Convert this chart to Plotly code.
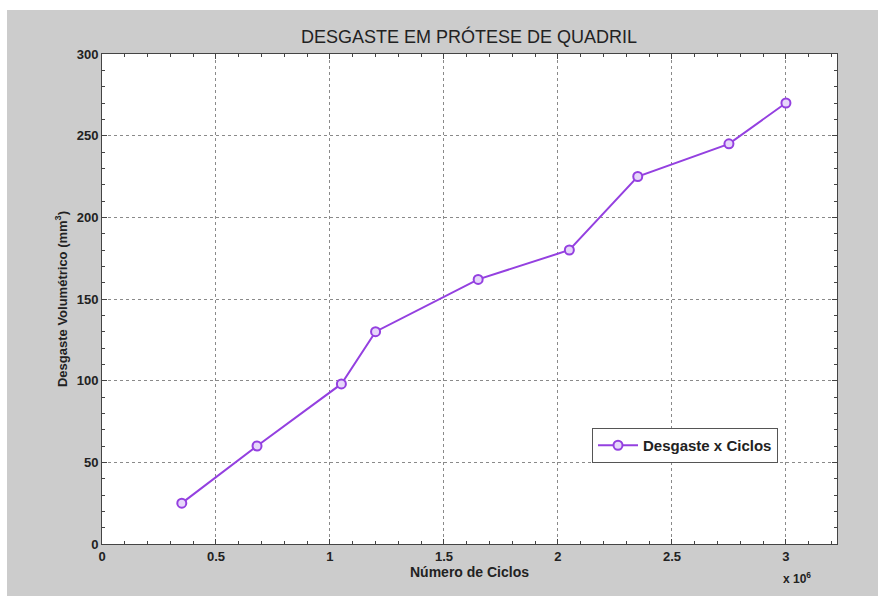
import plotly.graph_objects as go

ciclos = [0.35e6, 0.68e6, 1.05e6, 1.2e6, 1.65e6, 2.05e6, 2.35e6, 2.75e6, 3.0e6]
desgaste = [25, 60, 98, 130, 162, 180, 225, 245, 270]
x_ticks = [0, 0.5e6, 1e6, 1.5e6, 2e6, 2.5e6, 3e6]
x_labels = ["0", "0.5", "1", "1.5", "2", "2.5", "3"]
y_ticks = [0, 50, 100, 150, 200, 250, 300]

FONT = "Liberation Sans, Arial, sans-serif"
PURPLE = "#9440e0"

fig = go.Figure()
fig.add_trace(go.Scatter(
    x=ciclos, y=desgaste, mode="lines+markers", name="<b>Desgaste x Ciclos</b>",
    line=dict(color=PURPLE, width=2),
    marker=dict(symbol="circle", size=9, color="rgba(230,215,250,1)",
                line=dict(color=PURPLE, width=2)),
))

W, H = 878, 596
L, R, T, B = 102, 41, 54, 52
pw, ph = W - L - R, H - T - B

def px(xp):
    return (xp - L) / pw

def py(yp):
    return (H - B - yp) / ph

# white strips to the left and top of the grey figure area
fig.add_shape(type="rect", xref="paper", yref="paper",
              x0=px(-2), x1=px(7), y0=py(H + 2), y1=py(-2),
              fillcolor="white", line=dict(width=0), layer="above")
fig.add_shape(type="rect", xref="paper", yref="paper",
              x0=px(-2), x1=px(W + 2), y0=py(10), y1=py(-2),
              fillcolor="white", line=dict(width=0), layer="above")

axis_common = dict(
    showline=True, linecolor="#444", linewidth=1, mirror="ticks",
    ticks="inside", ticklen=5, tickcolor="#444", tickwidth=1,
    showgrid=True, gridcolor="#8a8a8a", griddash="dot", gridwidth=1,
    zeroline=False,
    tickfont=dict(family=FONT, size=13, color="#222", weight="bold"),
)

fig.update_xaxes(
    range=[0, 3.224e6], tickvals=x_ticks, ticktext=x_labels,
    minor=dict(dtick=1e5, ticks="inside", ticklen=3, tickcolor="#444", showgrid=False),
    title=dict(text="<b>Número de Ciclos</b>", font=dict(family=FONT, size=14, color="#222"), standoff=4),
    **axis_common,
)
fig.update_yaxes(
    range=[0, 300], tickvals=y_ticks,
    minor=dict(dtick=10, ticks="inside", ticklen=3, tickcolor="#444", showgrid=False),
    title=dict(text="<b>Desgaste Volumétrico (mm<sup>3</sup>)</b>", font=dict(family=FONT, size=13, color="#222"), standoff=6),
    **axis_common,
)

fig.add_annotation(xref="paper", yref="paper", x=px(797), y=py(578),
                   xanchor="center", yanchor="middle",
                   text="<b>x 10<sup>6</sup></b>", showarrow=False,
                   font=dict(family=FONT, size=12, color="#222"))

fig.update_layout(
    width=W, height=H,
    margin=dict(l=L, r=R, t=T, b=B),
    paper_bgcolor="#cccccc", plot_bgcolor="white",
    title=dict(text="DESGASTE EM PRÓTESE DE QUADRIL", x=469 / W, xanchor="center",
               y=1 - 37 / H, yanchor="middle",
               font=dict(family=FONT, size=18, color="#222")),
    showlegend=True,
    legend=dict(x=px(592), y=py(428), xanchor="left", yanchor="top",
                bgcolor="white", bordercolor="#555", borderwidth=1,
                itemwidth=40,
                font=dict(family=FONT, size=15, color="#222")),
)

fig.write_html("out.html")
